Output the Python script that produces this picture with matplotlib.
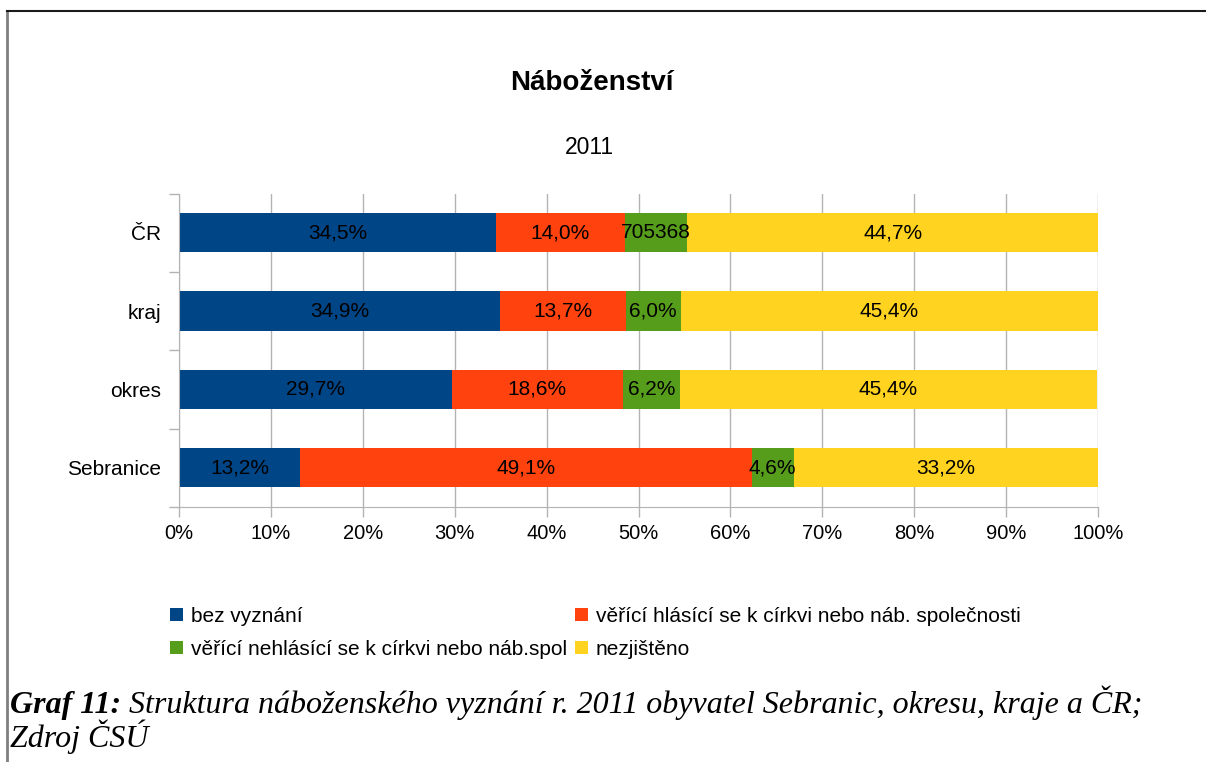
import matplotlib.pyplot as plt
from matplotlib.lines import Line2D
from matplotlib.ticker import PercentFormatter

regions = ["ČR", "kraj", "okres", "Sebranice"]
bez_vyznani = [34.5, 34.9, 29.7, 13.2]
hlasici = [14.0, 13.7, 18.6, 49.1]
nehlasici = [6.8, 6.0, 6.2, 4.6]
nezjisteno = [44.7, 45.4, 45.4, 33.2]
# the green CR segment carries the raw count instead of a percentage
nehlasici_labels = ["705368", "6,0%", "6,2%", "4,6%"]

series_names = [
    "bez vyznání",
    "věřící hlásící se k církvi nebo náb. společnosti",
    "věřící nehlásící se k církvi nebo náb.spol",
    "nezjištěno",
]
colors = ["#004586", "#ff420e", "#579d1c", "#ffd320"]

plt.rcParams["font.family"] = ["Liberation Sans", "DejaVu Sans"]

W, H = 1206, 762
fig = plt.figure(figsize=(W / 100, H / 100), dpi=100)
ax = fig.add_axes([179 / W, 1 - 507 / H, (1098 - 179) / W, (507 - 193.5) / H])

y = list(range(len(regions)))
series = [bez_vyznani, hlasici, nehlasici, nezjisteno]
left = [0.0] * len(regions)
bars = []
for vals, name, col in zip(series, series_names, colors):
    b = ax.barh(y, vals, left=left, height=0.5, color=col, label=name, zorder=2)
    bars.append(b)
    left = [l + v for l, v in zip(left, vals)]

def fmt(v):
    return f"{v:.1f}%".replace(".", ",")

for b, vals in zip(bars, series):
    labels = [fmt(v) for v in vals]
    if b is bars[2]:
        labels = nehlasici_labels
    ax.bar_label(b, labels=labels, label_type="center", fontsize=15, color="black")

ax.set_xlim(0, 100)
ax.set_ylim(len(regions) - 0.5, -0.5)
ax.set_xticks(range(0, 101, 10))
ax.xaxis.set_major_formatter(PercentFormatter(decimals=0))
ax.set_yticks(y)
ax.set_yticklabels(regions)
ax.set_yticks([i - 0.5 for i in range(len(regions) + 1)], minor=True)
ax.tick_params(axis="y", which="major", length=0, pad=13, labelsize=15)
ax.tick_params(axis="y", which="minor", length=7, color="#b3b3b3", width=1)
ax.tick_params(axis="x", length=7, color="#b3b3b3", width=1, pad=5, labelsize=14.5)
ax.xaxis.grid(True, color="#b3b3b3", lw=1, zorder=0)
ax.set_axisbelow(True)
for s in ["top", "right"]:
    ax.spines[s].set_visible(False)
for s in ["left", "bottom"]:
    ax.spines[s].set_color("#b3b3b3")

# title and subtitle
fig.text(592 / W, 1 - 83 / H, "Náboženství", ha="center", va="center",
         fontsize=20, fontweight="bold")
fig.text(589 / W, 1 - 147 / H, "2011", ha="center", va="center", fontsize=16.5)

# legend in two columns placed separately
leg_kw = dict(frameon=False, fontsize=15, handlelength=0.6, handleheight=0.6,
              handletextpad=0.4, labelspacing=0.68, borderpad=0, borderaxespad=0)
fig.legend([bars[0], bars[2]], [series_names[0], series_names[2]],
           loc="upper left", bbox_to_anchor=(170 / W, 1 - 607 / H), **leg_kw)
fig.legend([bars[1], bars[3]], [series_names[1], series_names[3]],
           loc="upper left", bbox_to_anchor=(575 / W, 1 - 607 / H), **leg_kw)

# caption below the chart
cap_font = ["Liberation Serif", "DejaVu Serif"]
cap_size = 23
t1 = fig.text(10 / W, 1 - 720 / H, "Graf 11:", family=cap_font, fontsize=cap_size,
              fontstyle="italic", fontweight="bold", va="bottom")
ax.annotate(" Struktura náboženského vyznání r. 2011 obyvatel Sebranic, okresu, kraje a ČR;",
            xy=(1, 0), xycoords=t1, va="bottom", ha="left", family=cap_font,
            fontsize=cap_size, fontstyle="italic", annotation_clip=False)
fig.text(10 / W, 1 - 754 / H, "Zdroj ČSÚ", family=cap_font, fontsize=cap_size,
         fontstyle="italic", va="bottom")

# frame lines at left and top
fig.add_artist(Line2D([7 / W, 7 / W], [0, 1 - 11 / H], color="#7f7f7f", lw=2))
fig.add_artist(Line2D([7 / W, 1], [1 - 11 / H, 1 - 11 / H], color="#1a1a1a", lw=1.5))

fig.savefig("out.png", dpi=100)
